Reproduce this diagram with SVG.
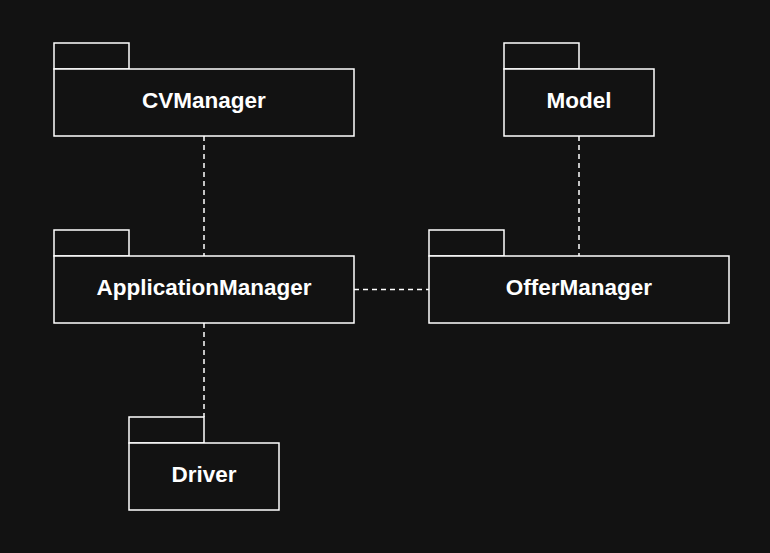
<svg xmlns="http://www.w3.org/2000/svg" width="770" height="553" viewBox="0 0 770 553">
<style>
.box{fill:#121212;stroke:#ffffff;stroke-width:1.5}
.lbl{font-family:"Liberation Sans",Arial,sans-serif;font-weight:bold;font-size:22.5px;fill:#ffffff;text-anchor:middle}
.dep{stroke:#ffffff;stroke-width:1.5;stroke-dasharray:5 4;fill:none}
</style>
<rect x="0" y="0" width="770" height="553" fill="#121212"/>
<g id="connectors">
<line class="dep" x1="204" y1="136" x2="204" y2="256"/>
<line class="dep" x1="579" y1="136" x2="579" y2="256"/>
<line class="dep" x1="354" y1="289.5" x2="429" y2="289.5"/>
<line class="dep" x1="204" y1="323" x2="204" y2="417"/>
</g>
<g id="CVManager">
<rect class="box" x="54" y="43" width="75" height="26"/>
<rect class="box" x="54" y="69" width="300" height="67"/>
<text class="lbl" x="204" y="108">CVManager</text>
</g>
<g id="Model">
<rect class="box" x="504" y="43" width="75" height="26"/>
<rect class="box" x="504" y="69" width="150" height="67"/>
<text class="lbl" x="579" y="108">Model</text>
</g>
<g id="ApplicationManager">
<rect class="box" x="54" y="230" width="75" height="26"/>
<rect class="box" x="54" y="256" width="300" height="67"/>
<text class="lbl" x="204" y="295">ApplicationManager</text>
</g>
<g id="OfferManager">
<rect class="box" x="429" y="230" width="75" height="26"/>
<rect class="box" x="429" y="256" width="300" height="67"/>
<text class="lbl" x="579" y="295">OfferManager</text>
</g>
<g id="Driver">
<rect class="box" x="129" y="417" width="75" height="26"/>
<rect class="box" x="129" y="443" width="150" height="67"/>
<text class="lbl" x="204" y="482">Driver</text>
</g>
</svg>
